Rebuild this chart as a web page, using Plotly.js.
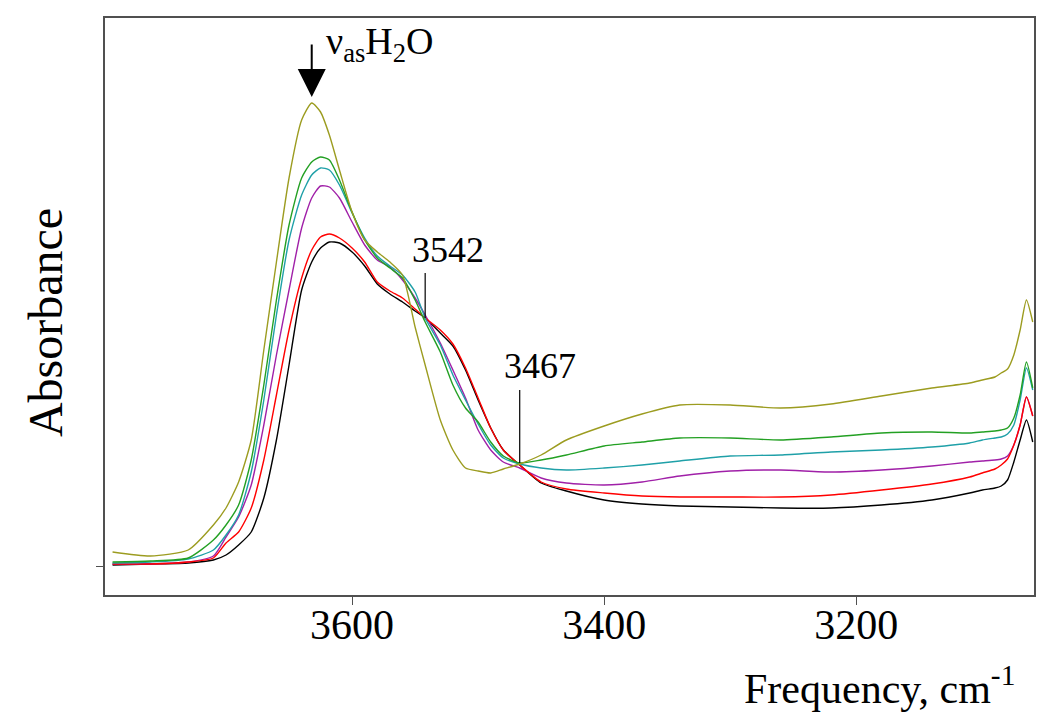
<!DOCTYPE html>
<html>
<head>
<meta charset="utf-8">
<script src="https://cdn.plot.ly/plotly-3.0.1.min.js"></script>
<style>html,body{margin:0;padding:0;background:#fff;}#chart{width:1050px;height:728px;}</style>
</head>
<body>
<div id="chart"></div>
<script>
// Frequency grid (cm-1)
const frequency = [3790,3760,3730,3710,3700,3690,3680,3670,3660,3650,3640,3632,3625,3618,3610,3600,3590,3580,3570,3560,3550,3542,3530,3520,3510,3500,3490,3480,3467,3450,3430,3400,3370,3340,3300,3260,3220,3180,3140,3110,3100,3090,3085,3080,3075,3070,3065,3060];

const olive  = [0.028,0.020,0.032,0.082,0.116,0.168,0.252,0.432,0.608,0.776,0.892,0.926,0.908,0.862,0.792,0.708,0.652,0.628,0.608,0.582,0.478,0.402,0.292,0.232,0.196,0.190,0.186,0.194,0.204,0.222,0.252,0.280,0.304,0.322,0.322,0.316,0.324,0.340,0.356,0.366,0.372,0.378,0.386,0.394,0.422,0.472,0.532,0.488];
const green  = [0.008,0.010,0.016,0.052,0.082,0.122,0.212,0.362,0.532,0.682,0.776,0.808,0.818,0.812,0.772,0.708,0.652,0.616,0.596,0.576,0.532,0.488,0.428,0.362,0.316,0.288,0.248,0.220,0.206,0.212,0.222,0.240,0.248,0.256,0.256,0.252,0.258,0.266,0.268,0.266,0.268,0.270,0.272,0.276,0.296,0.342,0.408,0.356];
const teal   = [0.006,0.008,0.014,0.032,0.062,0.102,0.188,0.332,0.502,0.652,0.742,0.782,0.796,0.792,0.762,0.706,0.656,0.620,0.600,0.582,0.548,0.496,0.442,0.382,0.332,0.284,0.242,0.216,0.204,0.196,0.192,0.196,0.202,0.210,0.220,0.222,0.228,0.232,0.238,0.246,0.252,0.256,0.258,0.264,0.282,0.332,0.396,0.352];
const purple = [0.004,0.004,0.008,0.020,0.058,0.098,0.162,0.282,0.422,0.552,0.676,0.736,0.760,0.758,0.736,0.688,0.642,0.612,0.598,0.572,0.536,0.502,0.446,0.392,0.336,0.272,0.232,0.208,0.196,0.176,0.166,0.162,0.168,0.180,0.190,0.192,0.188,0.192,0.200,0.208,0.210,0.212,0.214,0.220,0.242,0.282,0.338,0.300];
const red    = [0.004,0.004,0.008,0.016,0.046,0.068,0.116,0.212,0.342,0.472,0.576,0.632,0.658,0.664,0.656,0.636,0.608,0.568,0.550,0.536,0.514,0.496,0.472,0.444,0.396,0.336,0.276,0.232,0.202,0.168,0.154,0.146,0.140,0.138,0.138,0.138,0.142,0.152,0.164,0.178,0.186,0.194,0.202,0.214,0.242,0.282,0.338,0.300];
const black  = [0.002,0.004,0.006,0.012,0.022,0.042,0.068,0.136,0.252,0.402,0.552,0.608,0.636,0.648,0.646,0.628,0.600,0.564,0.544,0.528,0.510,0.496,0.466,0.440,0.392,0.332,0.276,0.232,0.202,0.166,0.150,0.132,0.124,0.120,0.118,0.116,0.116,0.122,0.132,0.146,0.152,0.156,0.160,0.172,0.208,0.252,0.292,0.248];

const xTicks = [3600, 3400, 3200];
const yTicks = [0];

const seriesList = [
  {y: black,  color: '#000000'},
  {y: purple, color: '#a020a8'},
  {y: red,    color: '#ff0000'},
  {y: teal,   color: '#1fa0a8'},
  {y: green,  color: '#23a023'},
  {y: olive,  color: '#9c9c20'}
];

const traces = seriesList.map(s => ({
  x: frequency, y: s.y, type: 'scatter', mode: 'lines',
  line: {color: s.color, width: 1.4, shape: 'spline', smoothing: 0.6},
  showlegend: false, hoverinfo: 'skip'
}));

const serif = 'Liberation Serif, Times New Roman, serif';

const layout = {
  width: 1050, height: 728,
  margin: {l: 105, r: 16, t: 18, b: 133},
  paper_bgcolor: '#fff', plot_bgcolor: '#fff',
  font: {family: serif, color: '#000'},
  showlegend: false,
  xaxis: {
    range: [3796, 3059], showgrid: false, zeroline: false,
    showline: true, mirror: true, linecolor: '#505050', linewidth: 2,
    tickmode: 'array', tickvals: xTicks, ticktext: xTicks.map(String),
    ticks: 'outside', ticklen: 8, tickcolor: '#505050', tickwidth: 1,
    ticklabelstandoff: -16,
    tickfont: {family: serif, size: 42, color: '#000'}
  },
  yaxis: {
    range: [-0.058, 1.096], showgrid: false, zeroline: false,
    showline: true, mirror: true, linecolor: '#505050', linewidth: 2,
    tickmode: 'array', tickvals: yTicks, showticklabels: false,
    ticks: 'outside', ticklen: 7, tickcolor: '#505050', tickwidth: 1
  },
  shapes: [
    {type: 'line', xref: 'x', yref: 'y', x0: 3542, x1: 3542, y0: 0.586, y1: 0.496, line: {color: '#000', width: 1.2}},
    {type: 'line', xref: 'x', yref: 'y', x0: 3467, x1: 3467, y0: 0.352, y1: 0.206, line: {color: '#000', width: 1.2}}
  ],
  annotations: [
    {x: 3524, y: 0.632, xref: 'x', yref: 'y', text: '3542', showarrow: false, font: {family: serif, size: 36, color: '#000'}},
    {x: 3451, y: 0.400, xref: 'x', yref: 'y', text: '3467', showarrow: false, font: {family: serif, size: 36, color: '#000'}},
    {x: 3632, y: 0.938, xref: 'x', yref: 'y', ax: 0, ay: -54, text: '', showarrow: true, arrowhead: 2, arrowsize: 2.8, arrowwidth: 2, arrowcolor: '#000'},
    {x: 3578, y: 1.045, xref: 'x', yref: 'y', text: 'ν<sub>as</sub>H<sub>2</sub>O', showarrow: false, font: {family: serif, size: 38, color: '#000'}},
    {x: 0.834, y: -0.157, xref: 'paper', yref: 'paper', xanchor: 'center', yanchor: 'middle', text: 'Frequency, cm<sup>-1</sup>', showarrow: false, font: {family: serif, size: 42, color: '#000'}},
    {x: -0.0646, y: 0.473, xref: 'paper', yref: 'paper', xanchor: 'center', yanchor: 'middle', text: 'Absorbance', textangle: -90, showarrow: false, font: {family: serif, size: 48, color: '#000'}}
  ]
};

Plotly.newPlot('chart', traces, layout, {displayModeBar: false, staticPlot: true});
</script>
</body>
</html>
